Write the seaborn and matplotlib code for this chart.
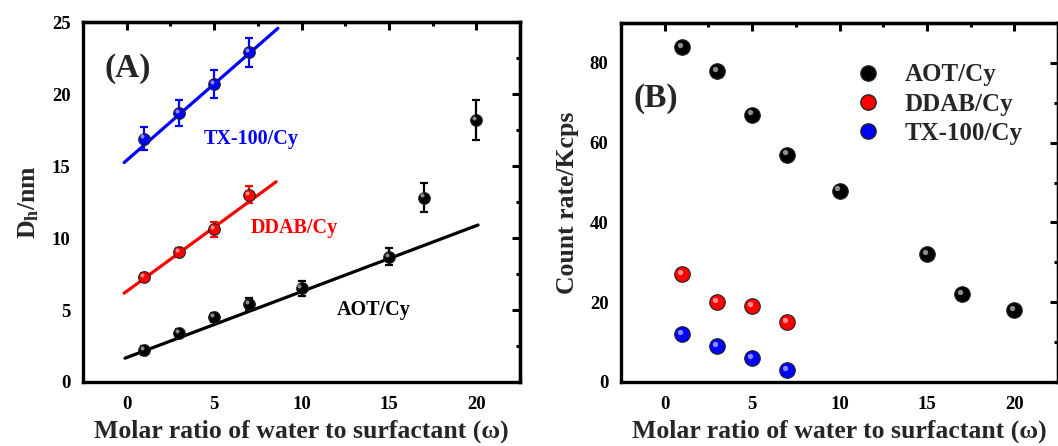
import numpy as np
import pandas as pd
import matplotlib
matplotlib.use('Agg')
import matplotlib.pyplot as plt
import matplotlib.transforms as mtransforms
from matplotlib.ticker import MultipleLocator
import seaborn as sns

# Panel A: hydrodynamic diameter vs omega
w_aot = [1, 3, 5, 7, 10, 15, 17, 20]
dh_aot = [2.2, 3.4, 4.5, 5.4, 6.5, 8.7, 12.8, 18.2]
dh_aot_err = [0.3, 0.3, 0.3, 0.4, 0.5, 0.6, 1.0, 1.4]

w_ddab = [1, 3, 5, 7]
dh_ddab = [7.3, 9.0, 10.6, 13.0]
dh_ddab_err = [0.3, 0.3, 0.5, 0.6]

w_tx = [1, 3, 5, 7]
dh_tx = [16.9, 18.7, 20.7, 22.9]
dh_tx_err = [0.8, 0.9, 1.0, 1.0]

# linear fits: (intercept, slope, x_start, x_end)
fit_aot = (1.7, 0.458, -0.1, 20.1)
fit_ddab = (6.3, 0.89, -0.15, 8.55)
fit_tx = (15.4, 1.06, -0.15, 8.65)

# Panel B: count rate vs omega
cr_aot = [84, 78, 67, 57, 48, 32, 22, 18]
cr_ddab = [27, 20, 19, 15]
cr_tx = [12, 9, 6, 3]

names = ['AOT/Cy', 'DDAB/Cy', 'TX-100/Cy']
colors = {'AOT/Cy': '#000000', 'DDAB/Cy': '#ff0000', 'TX-100/Cy': '#0000ff'}

sns.set_theme(style='white')
plt.rcParams['font.family'] = ['Liberation Serif', 'DejaVu Serif']
plt.rcParams['font.weight'] = 'bold'
plt.rcParams['axes.labelweight'] = 'bold'
plt.rcParams['mathtext.default'] = 'regular'

fig = plt.figure(figsize=(10.58, 4.46), dpi=100)
axA = fig.add_axes([0.0785, 0.1435, 0.413, 0.807])
axB = fig.add_axes([0.587, 0.1435, 0.413, 0.805])


def style_axes(ax, ymajor, yminor, ylim):
    ax.set_xlim(-2.5, 22.5)
    ax.set_ylim(*ylim)
    ax.xaxis.set_major_locator(MultipleLocator(5))
    ax.xaxis.set_minor_locator(MultipleLocator(2.5))
    ax.yaxis.set_major_locator(MultipleLocator(ymajor))
    ax.yaxis.set_minor_locator(MultipleLocator(yminor))
    # outward ticks on left/bottom
    ax.tick_params(which='both', direction='out', top=False, right=False,
                   width=2.2, labelsize=13.5, colors='black')
    ax.tick_params(axis='x', which='both', pad=4)
    ax.tick_params(axis='y', which='both', pad=3)
    ax.tick_params(which='major', length=6)
    ax.tick_params(which='minor', length=3)
    for s in ax.spines.values():
        s.set_linewidth(2.4)
        s.set_color('black')
    for lab in ax.get_xticklabels() + ax.get_yticklabels():
        lab.set_fontweight('bold')
    # inward ticks on top/right
    top = ax.secondary_xaxis('top')
    top.xaxis.set_major_locator(MultipleLocator(5))
    top.xaxis.set_minor_locator(MultipleLocator(2.5))
    top.tick_params(which='both', direction='in', labeltop=False, width=2.2, colors='black')
    top.tick_params(which='major', length=6)
    top.tick_params(which='minor', length=3)
    right = ax.secondary_yaxis('right')
    right.yaxis.set_major_locator(MultipleLocator(ymajor))
    right.yaxis.set_minor_locator(MultipleLocator(yminor))
    right.tick_params(which='both', direction='in', labelright=False, width=2.2, colors='black')
    right.tick_params(which='major', length=6)
    right.tick_params(which='minor', length=3)
    for sec in (top, right):
        for s in sec.spines.values():
            s.set_linewidth(2.4)


def sphere(ax, x, y, color, size):
    # ball marker with a small highlight
    ax.scatter(x, y, s=size, color=color, edgecolors='#222222', linewidths=0.8, zorder=3)
    off = mtransforms.offset_copy(ax.transData, fig=fig, x=-1.6, y=1.6, units='points')
    ax.scatter(x, y, s=size * 0.12, color='white', alpha=0.55, linewidths=0,
               transform=off, zorder=4)


# ---- Panel A ----
dfA = pd.DataFrame({
    'w': w_aot + w_ddab + w_tx,
    'dh': dh_aot + dh_ddab + dh_tx,
    'err': dh_aot_err + dh_ddab_err + dh_tx_err,
    'sys': ['AOT/Cy'] * len(w_aot) + ['DDAB/Cy'] * len(w_ddab) + ['TX-100/Cy'] * len(w_tx),
})
for name, fit in zip(names, [fit_aot, fit_ddab, fit_tx]):
    b, m, x0, x1 = fit
    xs = np.array([x0, x1])
    sns.lineplot(x=xs, y=b + m * xs, color=colors[name], lw=2.3, ax=axA, zorder=2)
    sub = dfA[dfA['sys'] == name]
    axA.errorbar(sub['w'], sub['dh'], yerr=sub['err'], fmt='none',
                 ecolor=colors[name], elinewidth=1.6, capsize=3, capthick=1.6, zorder=2.5)
    sphere(axA, sub['w'], sub['dh'], colors[name], 70)

style_axes(axA, 5, 2.5, (0, 25))
axA.set_xlabel('Molar ratio of water to surfactant (ω)', fontsize=18.5, fontweight='bold', labelpad=5)
axA.set_ylabel('D$_h$/nm', fontsize=18.5, fontweight='bold', labelpad=8)
axA.text(-1.3, 21.8, '(A)', fontsize=24, fontweight='bold', va='center')
axA.text(4.4, 16.9, 'TX-100/Cy', color=colors['TX-100/Cy'], fontsize=14.5, fontweight='bold', va='center')
axA.text(7.1, 10.7, 'DDAB/Cy', color=colors['DDAB/Cy'], fontsize=14.5, fontweight='bold', va='center')
axA.text(12.0, 5.0, 'AOT/Cy', color=colors['AOT/Cy'], fontsize=14.5, fontweight='bold', va='center')

# ---- Panel B ----
dfB = pd.DataFrame({
    'w': w_aot + w_ddab + w_tx,
    'cr': cr_aot + cr_ddab + cr_tx,
    'sys': ['AOT/Cy'] * len(w_aot) + ['DDAB/Cy'] * len(w_ddab) + ['TX-100/Cy'] * len(w_tx),
})
for name in names:
    sub = dfB[dfB['sys'] == name]
    sphere(axB, sub['w'], sub['cr'], colors[name], 125)

style_axes(axB, 20, 10, (0, 90))
axB.set_xlabel('Molar ratio of water to surfactant (ω)', fontsize=18.5, fontweight='bold', labelpad=5)
axB.set_ylabel('Count rate/Kcps', fontsize=18.5, fontweight='bold', labelpad=8)
axB.text(-1.8, 71, '(B)', fontsize=24, fontweight='bold', va='center')

handles = [plt.Line2D([], [], ls='', marker='o', markersize=11, color=colors[n],
                      markeredgecolor='#222222') for n in names]
axB.legend(handles, names, loc='upper left', bbox_to_anchor=(0.48, 0.95), frameon=False,
           prop={'size': 18, 'weight': 'bold'}, handletextpad=0.85, labelspacing=0.25,
           handlelength=1.2)

fig.savefig('out.png', dpi=100)
